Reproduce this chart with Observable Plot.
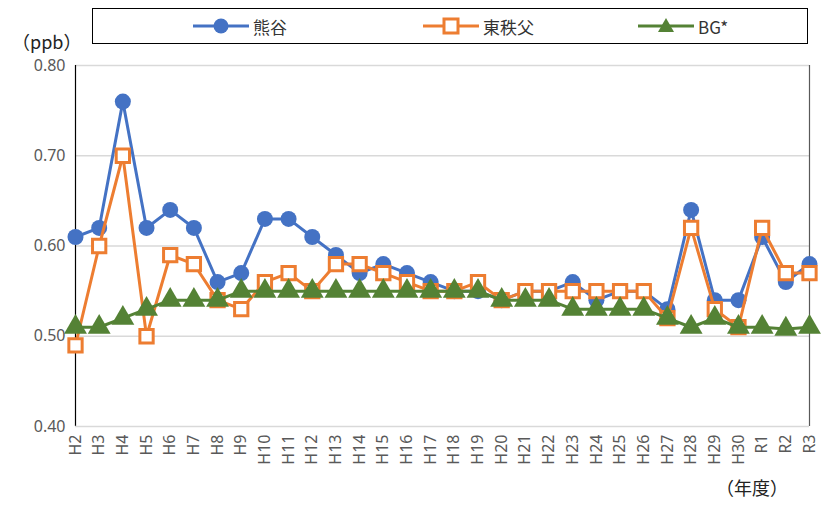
<!DOCTYPE html>
<html><head><meta charset="utf-8">
<script src="https://cdn.jsdelivr.net/npm/d3@7"></script>
<script src="https://cdn.jsdelivr.net/npm/@observablehq/plot@0.6"></script>
<style>
body{margin:0;background:#fff;font-family:"Noto Sans CJK JP","Noto Sans",sans-serif;}
#wrap{position:relative;width:827px;height:505px;}
#legend{position:absolute;left:92px;top:8px;width:716px;height:36px;border:1.5px solid #000;box-sizing:border-box;}
.li{position:absolute;top:0;height:34px;display:flex;align-items:center;font-size:17px;color:#333;}
.li svg{margin-right:4px}
.lab{position:absolute;font-size:18px;color:#222;}
</style></head><body>
<div id="wrap">
<div id="chart"></div>
<div id="legend">
 <div class="li" style="left:100px"><svg width="56" height="20"><line x1="0" y1="10" x2="56" y2="10" stroke="#4472C4" stroke-width="3"/><circle cx="28" cy="10" r="7.5" fill="#4472C4"/></svg>熊谷</div>
 <div class="li" style="left:330px"><svg width="56" height="20"><line x1="0" y1="10" x2="56" y2="10" stroke="#ED7D31" stroke-width="3"/><rect x="21" y="3" width="14" height="14" fill="#fff" stroke="#ED7D31" stroke-width="3"/></svg>東秩父</div>
 <div class="li" style="left:545px"><svg width="56" height="20"><line x1="0" y1="10" x2="56" y2="10" stroke="#548235" stroke-width="3"/><path d="M28,2 L36,16 L20,16Z" fill="#548235"/></svg>BG*</div>
</div>
<div class="lab" style="left:12px;top:28px">（ppb）</div>
<div class="lab" style="left:716px;top:474px">（年度）</div>
</div>
<script>
const years=["H2","H3","H4","H5","H6","H7","H8","H9","H10","H11","H12","H13","H14","H15","H16","H17","H18","H19","H20","H21","H22","H23","H24","H25","H26","H27","H28","H29","H30","R1","R2","R3"];
const kumagaya=[.61,.62,.76,.62,.64,.62,.56,.57,.63,.63,.61,.59,.57,.58,.57,.56,.55,.55,.54,.55,.55,.56,.54,.55,.55,.53,.64,.54,.54,.61,.56,.58];
const higashi=[.49,.60,.70,.50,.59,.58,.54,.53,.56,.57,.55,.58,.58,.57,.56,.55,.55,.56,.54,.55,.55,.55,.55,.55,.55,.52,.62,.53,.51,.62,.57,.57];
const bg=[.51,.51,.52,.53,.54,.54,.54,.55,.55,.55,.55,.55,.55,.55,.55,.55,.55,.55,.54,.54,.54,.53,.53,.53,.53,.52,.51,.52,.51,.51,.508,.51];
const mk=a=>years.map((y,i)=>({y,v:a[i]}));
const K=mk(kumagaya),H=mk(higashi),B=mk(bg);
const p=Plot.plot({width:827,height:505,marginLeft:75,marginRight:18,marginTop:65,marginBottom:79,
 style:{fontFamily:"'Noto Sans', sans-serif",fontSize:"16px",color:"#595959"},
 x:{type:"point",domain:years,padding:0,round:false,label:null,tickRotate:-90,tickSize:0,tickPadding:8},
 y:{domain:[0.4,0.8],ticks:[0.4,0.5,0.6,0.7,0.8],tickFormat:d3.format(".2f"),label:null,tickSize:0,tickPadding:10},
 marks:[
  Plot.gridY([0.5,0.6,0.7,0.8],{stroke:"#d9d9d9",strokeOpacity:1,strokeWidth:1.5}),
  Plot.ruleX([years[0]],{stroke:"#000",strokeWidth:1.2}),
  Plot.ruleX([years[years.length-1]],{stroke:"#595959",strokeWidth:1.2}),
  Plot.ruleY([0.4],{stroke:"#d9d9d9",strokeWidth:1.5}),
  Plot.lineY(K,{x:"y",y:"v",stroke:"#4472C4",strokeWidth:3}),
  Plot.dot(K,{x:"y",y:"v",fill:"#4472C4",r:8}),
  Plot.lineY(H,{x:"y",y:"v",stroke:"#ED7D31",strokeWidth:3}),
  Plot.dot(H,{x:"y",y:"v",symbol:"square",fill:"#fff",stroke:"#ED7D31",strokeWidth:3,r:7.5}),
  Plot.lineY(B,{x:"y",y:"v",stroke:"#548235",strokeWidth:3}),
  Plot.dot(B,{x:"y",y:"v",symbol:"triangle",fill:"#548235",r:8.5})
 ]});
document.getElementById("chart").appendChild(p);
</script></body></html>
